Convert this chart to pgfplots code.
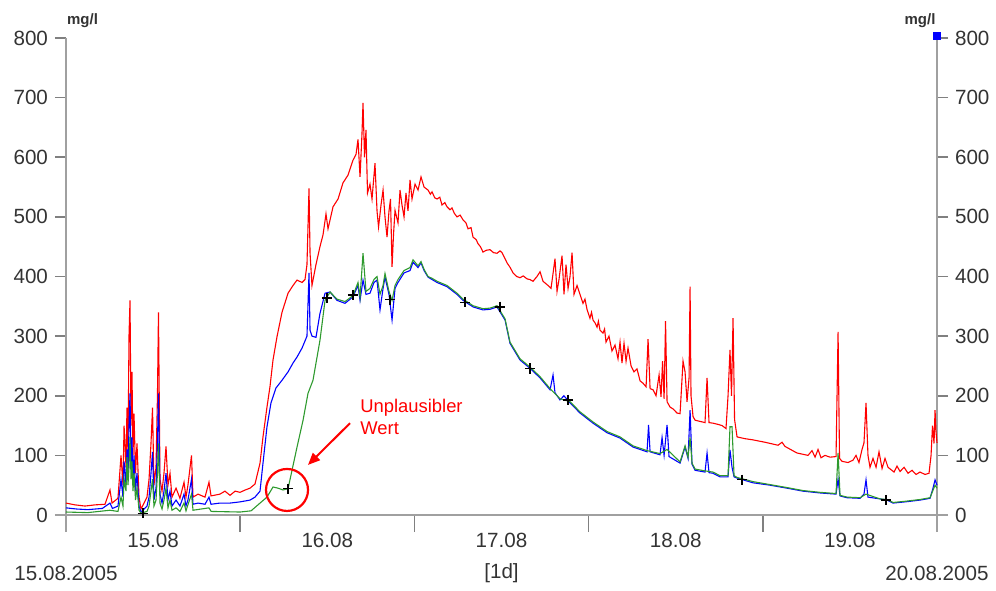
\documentclass[border=0pt]{standalone}
\usepackage{fontspec}
\setmainfont{Liberation Sans}
\usepackage{pgfplots}
\pgfplotsset{compat=1.18}
\usetikzlibrary{arrows.meta}
\definecolor{axgrey}{HTML}{A0A0A0}
\definecolor{tickgrey}{HTML}{808080}
\definecolor{txtgrey}{HTML}{333333}
\definecolor{sred}{HTML}{FF0000}
\definecolor{sblue}{HTML}{0000FF}
\definecolor{sgreen}{HTML}{2E9A2E}

\pgfplotsset{
  frame/.style={width=435.5pt,height=238.5pt,scale only axis,
    xmin=0,xmax=120,ymin=0,ymax=800,
    axis line style={draw=none},
    tick align=outside,
    tick style={draw=tickgrey,line width=0.8pt},
    ticklabel style={font=\fontsize{10.3}{12}\selectfont,text=txtgrey},
    /pgf/number format/assume math mode=true,
    clip=false},
}

\begin{document}
\begin{tikzpicture}
\path[use as bounding box] (-33pt,-37.5pt) rectangle (465pt,257.5pt);
% day boundaries on the time axis
\begin{axis}[frame, ytick=\empty, xtick={24,48,72,96}, xticklabels={,,,}, xtick pos=left, major tick length=8.5pt]
\end{axis}
% right scale
\begin{axis}[frame, xtick=\empty, ytick={0,100,...,800}, ytick pos=right, yticklabel pos=right, major tick length=5.5pt]
\end{axis}
% main axis with data
\begin{axis}[frame, xtick={12,36,60,84,108}, xticklabels={15.08,16.08,17.08,18.08,19.08},
  xtick pos=left, xtick style={draw=none},
  ytick={0,100,...,800}, ytick pos=left, major tick length=5.5pt]

\draw[axgrey,line width=1pt] ([yshift=-8.5pt]rel axis cs:0,0) -- (rel axis cs:0,1);
\draw[axgrey,line width=1pt] ([yshift=-8.5pt]rel axis cs:1,0) -- (rel axis cs:1,1);
\draw[axgrey,line width=1pt] ([xshift=-5.5pt]rel axis cs:0,0) -- ([xshift=5.5pt]rel axis cs:1,0);

\addplot[sred, line width=0.55pt] coordinates {
(0,20)(1.24,17)(2.62,15)(4,17)(5.37,18)(6.06,42)(6.34,20)(7.16,28)(7.58,100)(7.85,50)(8.0,150)(8.27,80)(8.4,180)(8.54,100)(8.68,300)(8.82,360)(8.96,150)(9.09,240)(9.23,100)(9.37,170)(9.58,70)(9.78,120)(10.06,30)(10.33,10)(10.75,20)(11.16,30)(11.44,60)(11.71,120)(11.92,180)(12.12,50)(12.4,80)(12.6,200)(12.74,340)(12.95,60)(13.23,40)(13.5,70)(13.78,115)(14.05,50)(14.33,70)(14.6,30)(15.16,45)(15.7,28)(16.26,55)(16.53,30)(16.8,50)(17.29,100)(17.5,30)(18.19,35)(19.15,30)(19.7,55)(19.98,32)(21.2,35)(21.9,40)(22.6,33)(23.3,40)(23.97,38)(24.7,42)(25.35,45)(26.04,52)(26.73,87)(27.14,131)(27.69,181)(28.1,215)(28.52,260)(29.07,299)(29.76,340)(30.59,372)(31.28,385)(31.83,394)(32.52,390)(32.93,395)(33.2,420)(33.48,548)(33.62,440)(33.89,385)(34.44,420)(34.99,450)(35.41,470)(35.82,505)(36.1,480)(36.79,517)(37.48,530)(38.16,557)(38.85,570)(39.54,595)(39.96,605)(40.23,630)(40.51,567)(40.78,640)(40.92,691)(41.13,600)(41.33,646)(41.54,540)(41.88,555)(42.16,530)(42.57,590)(42.85,510)(43.06,483)(43.4,520)(43.68,545)(43.95,500)(44.23,466)(44.5,510)(44.71,530)(44.92,416)(45.12,470)(45.33,511)(45.74,490)(46.02,545)(46.29,520)(46.57,500)(46.84,540)(47.12,510)(47.4,562)(47.67,530)(48.09,555)(48.5,545)(48.91,567)(49.33,550)(49.88,545)(50.2,538)(50.43,542)(50.8,532)(51.12,530)(51.5,533)(51.8,520)(52.2,524)(52.49,517)(52.9,512)(53.18,515)(53.5,506)(53.87,500)(54.3,503)(54.7,495)(55.1,490)(55.39,480)(55.8,482)(56.08,466)(56.5,462)(56.77,455)(57.1,450)(57.45,441)(57.9,444)(58.42,445)(58.9,440)(59.38,439)(59.8,443)(60.07,440)(60.4,432)(60.76,423)(61.2,415)(61.59,406)(62.1,400)(62.55,398)(63,401)(63.52,396)(63.9,395)(64.34,392)(64.89,400)(65.31,408)(65.72,392)(66.41,385)(66.82,380)(67.1,405)(67.37,430)(67.65,375)(67.92,395)(68.34,435)(68.61,370)(68.89,420)(69.17,380)(69.44,400)(69.72,440)(69.99,370)(70.41,385)(70.82,370)(71.23,355)(71.5,362)(71.78,345)(72.19,330)(72.4,340)(72.61,327)(72.9,322)(73.16,315)(73.35,325)(73.57,310)(73.98,305)(74.2,312)(74.4,290)(74.81,300)(75.22,275)(75.64,285)(76.05,262)(76.33,290)(76.6,255)(76.88,288)(77.16,258)(77.43,280)(77.85,250)(78.26,240)(78.67,245)(79.09,225)(79.5,221)(79.92,215)(80.19,295)(80.47,212)(80.88,210)(81.29,200)(81.71,235)(81.98,198)(82.19,258)(82.4,195)(82.6,325)(82.81,190)(83.22,181)(83.63,178)(84.18,171)(84.6,170)(85.01,258)(85.29,240)(85.56,190)(85.84,230)(85.98,383)(86.11,200)(86.39,165)(86.67,159)(87.35,157)(88.04,155)(88.32,230)(88.59,155)(89.14,154)(89.83,152)(90.38,150)(90.93,145)(91.21,200)(91.48,277)(91.69,200)(91.9,330)(92.11,160)(92.45,131)(93.55,128)(94.65,126)(96.31,122)(98.1,117)(98.65,122)(99.06,115)(100.71,104)(102.23,100)(102.78,108)(103.2,97)(103.61,110)(104.02,96)(104.57,100)(105.26,97)(106.09,98)(106.37,307)(106.57,95)(106.92,90)(107.74,88)(108.43,92)(108.84,100)(109.25,88)(109.67,110)(109.94,121)(110.22,188)(110.49,100)(110.77,80)(111.18,95)(111.6,80)(112.01,106)(112.43,78)(112.84,95)(113.25,80)(113.67,76)(114.08,72)(114.49,82)(114.91,73)(115.46,80)(116.01,70)(116.56,75)(117.11,68)(117.66,72)(118.35,68)(118.9,70)(119.18,100)(119.38,150)(119.59,120)(119.73,176)(119.86,140)(120,121)
};

\addplot[sblue, line width=0.55pt] coordinates {
(0,12)(1.5,10)(3,9)(5,11)(6.06,20)(6.4,11)(7.16,15)(7.58,60)(7.85,30)(8.0,90)(8.27,50)(8.4,110)(8.54,60)(8.68,150)(8.82,204)(8.96,80)(9.09,130)(9.23,50)(9.37,100)(9.58,40)(9.78,70)(10.06,15)(10.33,5)(10.75,10)(11.16,15)(11.44,30)(11.71,70)(11.92,106)(12.12,25)(12.4,45)(12.6,120)(12.74,204)(12.95,35)(13.23,20)(13.5,40)(13.78,70)(14.05,25)(14.33,40)(14.6,15)(15.16,25)(15.7,15)(16.26,35)(16.53,15)(16.8,25)(17.29,60)(17.5,18)(18.19,20)(19.15,18)(19.7,30)(19.98,18)(21.2,20)(22.6,20)(23.97,22)(25.35,25)(26.04,30)(26.73,40)(27.14,87)(27.69,148)(28.24,188)(28.93,213)(29.76,226)(30.59,240)(31.28,255)(31.83,265)(32.52,280)(33.2,300)(33.48,406)(33.62,310)(33.89,300)(34.44,298)(34.99,338)(35.69,372)(36.38,374)(37.34,360)(38.44,355)(39.54,366)(40.23,385)(40.51,360)(40.92,394)(41.33,370)(41.88,372)(42.43,390)(42.85,394)(43.26,344)(43.68,380)(43.95,399)(44.5,370)(44.92,327)(45.33,380)(45.74,390)(46.57,406)(47.4,410)(47.81,424)(48.5,415)(48.91,423)(49.33,410)(49.88,399)(50.43,395)(51.12,390)(52.49,383)(53.87,370)(54.7,360)(56.08,349)(57.45,344)(58.42,345)(59.38,349)(60.49,327)(61.17,288)(62.55,260)(63.93,246)(65.31,230)(66.69,210)(67.1,235)(67.37,205)(68.06,193)(68.6,200)(69.44,188)(70.82,171)(72.61,154)(74.54,138)(76.33,129)(78.12,114)(80.05,106)(80.26,151)(80.47,106)(81.84,101)(82.12,130)(82.4,100)(82.81,151)(83.08,98)(84.6,87)(85.29,114)(85.7,95)(85.98,176)(86.25,85)(86.67,75)(88.04,72)(88.32,104)(88.59,71)(89.14,70)(90.1,64)(91.21,64)(91.48,109)(91.76,80)(92.04,64)(92.45,62)(94.65,54)(97,50)(99.34,45)(101.54,40)(103.89,37)(106.09,35)(106.37,60)(106.64,32)(107.6,29)(109.4,28)(109.94,35)(110.22,59)(110.49,30)(112.15,27)(113.11,25)(113.94,20)(115.6,22)(117.66,25)(119.04,28)(119.45,45)(119.73,59)(120,50)
};

\addplot[sgreen, line width=0.55pt] coordinates {
(0,5)(3,4)(6.06,8)(7.16,6)(7.58,30)(7.85,15)(8.0,60)(8.27,40)(8.4,97)(8.54,50)(8.68,80)(8.82,131)(8.96,60)(9.09,90)(9.23,40)(9.37,70)(9.58,25)(9.78,45)(10.06,8)(10.33,3)(11.16,6)(11.44,15)(11.71,40)(11.92,60)(12.12,15)(12.4,25)(12.6,70)(12.74,120)(12.95,20)(13.23,10)(13.5,25)(13.78,45)(14.05,12)(14.33,25)(14.6,8)(15.16,12)(15.7,6)(16.26,20)(16.53,7)(17.29,35)(17.5,8)(19.7,12)(20,6)(24,5)(25.5,7)(26.73,20)(27.69,30)(28.52,47)(29.21,45)(29.9,42)(30.59,44)(31.14,75)(31.83,114)(32.66,159)(33.34,204)(34.03,226)(34.99,293)(35.69,360)(36.38,374)(37.34,362)(38.44,358)(39.54,368)(40.23,390)(40.51,365)(40.92,439)(41.33,375)(41.88,380)(42.43,395)(42.85,400)(43.26,370)(43.68,385)(43.95,405)(44.5,375)(44.92,360)(45.33,385)(45.74,395)(46.57,410)(47.4,415)(47.81,428)(48.5,418)(48.91,425)(49.33,412)(49.88,400)(50.43,397)(51.12,392)(52.49,385)(53.87,372)(54.7,362)(56.08,351)(57.45,346)(58.42,347)(59.38,351)(60.49,329)(61.17,290)(62.55,262)(63.93,248)(65.31,232)(66.69,212)(68.06,195)(69.44,190)(70.82,173)(72.61,156)(74.54,140)(76.33,131)(78.12,116)(80.05,108)(81.84,103)(82.81,110)(84.6,89)(85.29,116)(85.7,97)(85.98,130)(86.25,87)(86.67,77)(88.04,74)(89.14,72)(90.1,66)(91.21,66)(91.48,148)(91.76,148)(92.04,66)(92.45,63)(94.65,56)(97,51)(99.34,46)(101.54,41)(103.89,38)(106.09,36)(106.37,104)(106.64,33)(107.6,30)(109.4,29)(110.22,35)(112.15,27)(113.11,26)(113.94,21)(115.6,23)(117.66,26)(119.04,29)(119.73,50)(120,45)
};

\addplot[only marks, mark=+, mark size=2.6pt, black, mark options={line width=0.6pt}] coordinates {
(10.6,3)(30.59,44)(35.96,364)(39.54,369)(44.64,361)(54.97,357)(59.8,349)(63.93,246)(69.17,193)(93.14,59)(112.98,25)
};

% annotation
\draw[sred, line width=1.1pt] (axis cs:30.45,42) circle[radius=10.5pt];
\draw[sred, line width=1pt, -{Triangle[length=6pt,width=5pt]}] (axis cs:39.13,154) -- (axis cs:33.34,84);
\node[sred, anchor=north west, align=left, font=\fontsize{9.2}{11}\selectfont, inner sep=0pt] at (axis cs:40.5,195) {Unplausibler\\Wert};

\node[fill=sblue, minimum size=4pt, inner sep=0pt] at ([yshift=1pt]rel axis cs:1,1) {};
\node[anchor=base, font=\fontsize{7.5}{9}\selectfont\bfseries, text=txtgrey] at ([xshift=8.25pt,yshift=7pt]rel axis cs:0,1) {mg/l};
\node[anchor=base, font=\fontsize{7.5}{9}\selectfont\bfseries, text=txtgrey] at ([xshift=-8.5pt,yshift=7pt]rel axis cs:1,1) {mg/l};

\node[font=\fontsize{10.3}{12}\selectfont, text=txtgrey] at ([yshift=-29pt]rel axis cs:0,0) {15.08.2005};
\node[font=\fontsize{10.3}{12}\selectfont, text=txtgrey] at ([yshift=-29pt]rel axis cs:0.5,0) {[1d]};
\node[font=\fontsize{10.3}{12}\selectfont, text=txtgrey] at ([yshift=-29pt]rel axis cs:1,0) {20.08.2005};
\end{axis}
\end{tikzpicture}
\end{document}
